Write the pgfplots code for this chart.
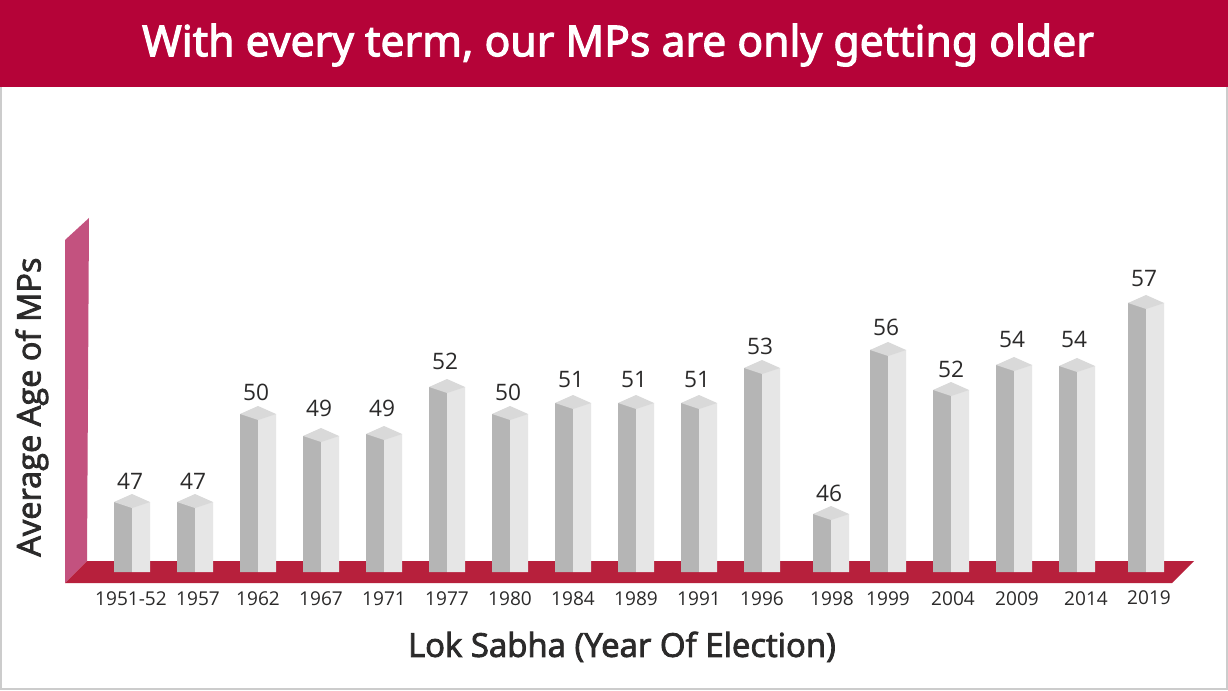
\documentclass[border=0pt]{standalone}
\usepackage{fontspec}
\setmainfont{Open Sans}
\newfontfamily\semifont{Open Sans}[FakeBold=2.5]
\newfontfamily\titlefont{Noto Sans}[FakeBold=2.5]
\usepackage{pgfplots}
\usepackage{pgfplotstable}
\pgfplotsset{compat=1.18}
\definecolor{band}{HTML}{B50338}
\definecolor{floorc}{HTML}{B7203C}
\definecolor{wallc}{HTML}{C3527F}
\definecolor{frame}{HTML}{CCCCCC}
\definecolor{front}{HTML}{B5B5B5}
\definecolor{sidec}{HTML}{E6E6E6}
\definecolor{topc}{HTML}{D9D9D9}
\definecolor{ink}{HTML}{2B2A2A}
\pgfdeclareplotmark{topface}{%
  \pgfpathmoveto{\pgfpoint{-13.5pt}{0pt}}%
  \pgfpathlineto{\pgfpoint{0pt}{6pt}}%
  \pgfpathlineto{\pgfpoint{13.5pt}{0pt}}%
  \pgfpathlineto{\pgfpoint{0pt}{-4.5pt}}%
  \pgfpathclose\pgfusepathqfill}
% x, h: bar centre and height in picture pixels above the floor line; age: printed value
\pgfplotstableread{
x    h    age labx laby
132  70   47  130  91
195  70   47  193  91
258  158  50  256  180
321  136  49  319  164
384  138  49  382  164
447  185  52  445  211
510  158  50  508  180
573  169  51  571  192
636  169  51  634  192
699  169  51  697  192
762  204  53  760  226
831  58   46  829  79
888  222  56  886  245
951  182  52  951  203
1014 207  54  1012 233
1077 206  54  1074 233
1146 269  57  1144 293
}\bars
\begin{document}
\begin{tikzpicture}
\begin{axis}[
  scale only axis, width=921pt, height=517.5pt,
  xmin=0, xmax=1228, ymin=-118, ymax=572,
  clip=false, axis on top,
  axis line style={draw=none}, tick style={draw=none},
  ytick=\empty,
  xtick={131,198,258,321,384,447,510,573,636,699,762,832,888,953,1017,1086,1149},
  xticklabels={1951-52,1957,1962,1967,1971,1977,1980,1984,1989,1991,1996,1998,1999,2004,2009,2014,\raisebox{1.5pt}{2019}},
  xticklabel style={anchor=center, yshift=68.25pt, font=\fontsize{14.3pt}{16pt}\selectfont, text=ink},
  xlabel={Lok Sabha (Year Of Election)},
  xlabel style={at={(axis description cs:0.5065,0.0625)}, anchor=center, font=\semifont\fontsize{24.7pt}{28pt}\selectfont, text=ink},
  ylabel={Average Age of MPs},
  ylabel style={at={(axis description cs:0.026,0.41)}, anchor=center, rotate=0, font=\semifont\fontsize{24.4pt}{28pt}\selectfont, text=ink},
  title={With every term, our MPs are only getting older},
  title style={at={(axis description cs:0.5033,0.923)}, anchor=center, font=\titlefont\fontsize{32pt}{38pt}\selectfont, text=white},
]
% frame and header
\fill[frame] (axis cs:0,-118) rectangle (axis cs:1228,572);
\fill[white] (axis cs:2,-116) rectangle (axis cs:1226,485);
\fill[band] (axis cs:0,485) rectangle (axis cs:1228,572);
% wall and floor
\fill[wallc] (axis cs:65,-11) -- (axis cs:87,11) -- (axis cs:89,354) -- (axis cs:65,332) -- cycle;
\fill[floorc] (axis cs:65,-11) -- (axis cs:87,11) -- (axis cs:1194,11) -- (axis cs:1172,-11) -- cycle;
% bars
\addplot[ybar, bar width=13.5pt, bar shift=-6.75pt, fill=front, draw=none] table[x=x,y=h]{\bars};
\addplot[ybar, bar width=13.5pt, bar shift=6.75pt, fill=sidec, draw=none] table[x=x,y=h]{\bars};
\addplot[only marks, mark=topface, mark options={fill=topc, draw=none}, color=topc] table[x=x,y=h]{\bars};
% values
\addplot[only marks, mark=none, nodes near coords, point meta=explicit symbolic,
  nodes near coords style={anchor=center, text=ink, font=\fontsize{17pt}{20pt}\selectfont}]
  table[x=labx,y=laby,meta=age]{\bars};
\end{axis}
\end{tikzpicture}
\end{document}
